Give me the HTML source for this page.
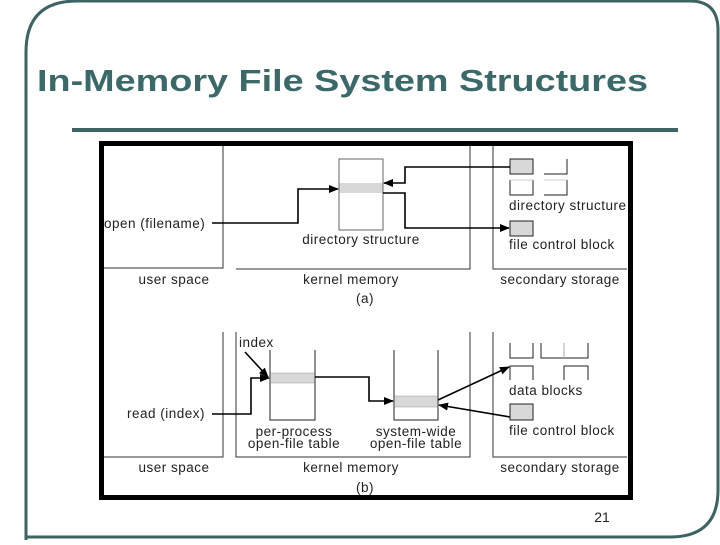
<!DOCTYPE html>
<html><head><meta charset="utf-8"><style>
html,body{margin:0;padding:0;background:#fff;}
body{width:720px;height:540px;overflow:hidden;}
svg text{font-family:"Liberation Sans",sans-serif;}
</style></head><body>
<svg width="720" height="540" viewBox="0 0 720 540" xmlns="http://www.w3.org/2000/svg">
<defs>
<marker id="a" markerWidth="10" markerHeight="8" refX="9" refY="4" orient="auto" markerUnits="userSpaceOnUse">
<path d="M0,0 L10,4 L0,8 z" fill="#000"/></marker>
</defs>
<!-- frame -->
<path d="M26,540 L26,52 Q26,1 77,1 L690,1 Q718,1 718,30 L718,490 Q718,537 670,537 L26,537" fill="none" stroke="#3d6363" stroke-width="3"/>
<text x="37" y="91" font-size="31" font-weight="bold" fill="#3b6868" textLength="611" lengthAdjust="spacingAndGlyphs">In-Memory File System Structures</text>
<rect x="72" y="128" width="606" height="4" fill="#3d6363"/>
<!-- black box -->
<rect x="101.5" y="143.5" width="529" height="354" fill="#fff" stroke="#000" stroke-width="5"/>
<g stroke="#333" stroke-width="1" fill="none">
<path d="M104,268 H223 V146"/>
<path d="M236,269 H470 V146"/>
<path d="M493,146 V269 H627"/>
<path d="M104,457 H223 V332"/>
<path d="M236,332 V457 H470 V332"/>
<path d="M493,332 V457 H627"/>
</g>
<g stroke="#222" stroke-width="1" fill="none">
<rect x="339" y="159" width="44" height="71" stroke="#666"/>
<rect x="510" y="159" width="23" height="15" fill="#d8d8d8"/>
<path d="M544,174 H567 V159"/>
<path d="M510,180 V195 H533 V180"/>
<path d="M510,180 H533" stroke="#ccc"/>
<path d="M544,195 H567 V180"/>
<path d="M544,180 H567" stroke="#ccc"/>
<rect x="510" y="221" width="23" height="15" fill="#d8d8d8"/>
<path d="M270,350 V420 H315 V350"/>
<path d="M394,350 V420 H438 V350"/>
<path d="M510,343 V358 H533 V343"/>
<path d="M541,343 V358 H588 V343"/>
<path d="M564,343 V358" stroke="#aaa"/>
<path d="M510,380 V366 H533 V380"/>
<path d="M564,380 V366 H588 V380"/>
<rect x="510" y="404" width="23" height="16" fill="#d8d8d8"/>
</g>
<rect x="339.5" y="183" width="43" height="10" fill="#d8d8d8"/>
<rect x="270.5" y="373" width="44" height="10" fill="#d8d8d8" stroke="#999" stroke-width="0.5"/>
<rect x="394.5" y="396" width="43" height="11" fill="#d8d8d8" stroke="#999" stroke-width="0.5"/>
<g stroke="#000" stroke-width="1.6" fill="none" marker-end="url(#a)">
<path d="M212,223 H298 V189 H338"/>
<path d="M510,167 H405 V183 H384"/>
<path d="M383,193 H405 V228 H509"/>
<path d="M212,414 H251 V378 H269"/>
<path d="M315,377 H369 V401 H393"/>
<path d="M438,400 L509,367"/>
<path d="M510,417 L439,405"/>
<path d="M245,352 L268,377"/>
</g>
<g font-size="13.5" fill="#222" letter-spacing="0.5">
<text x="104" y="228">open (filename)</text>
<text x="361" y="244" text-anchor="middle">directory structure</text>
<text x="509" y="210">directory structure</text>
<text x="509" y="249">file control block</text>
<text x="174" y="284" text-anchor="middle">user space</text>
<text x="351" y="284" text-anchor="middle">kernel memory</text>
<text x="560" y="284" text-anchor="middle">secondary storage</text>
<text x="365" y="303" text-anchor="middle">(a)</text>
<text x="239" y="347">index</text>
<text x="127" y="418">read (index)</text>
<text x="294" y="436" text-anchor="middle">per-process</text>
<text x="294" y="448" text-anchor="middle">open-file table</text>
<text x="416" y="436" text-anchor="middle">system-wide</text>
<text x="416" y="448" text-anchor="middle">open-file table</text>
<text x="509" y="395">data blocks</text>
<text x="509" y="435">file control block</text>
<text x="174" y="472" text-anchor="middle">user space</text>
<text x="351" y="472" text-anchor="middle">kernel memory</text>
<text x="560" y="472" text-anchor="middle">secondary storage</text>
<text x="365" y="492" text-anchor="middle">(b)</text>
</g>
<text x="602" y="522" font-size="14" fill="#222" text-anchor="middle">21</text>
</svg>
</body></html>
